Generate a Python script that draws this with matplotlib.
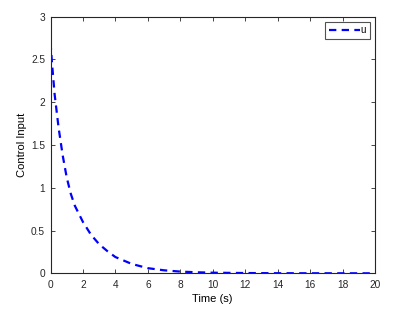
import matplotlib
matplotlib.use("Agg")
import matplotlib.pyplot as plt

time_s = [0, 0.1, 0.25, 0.5, 0.75, 1.0, 1.25, 1.5, 2.0, 2.5, 3.0, 3.5, 4.0, 5.0, 6.0,
          7.0, 8.0, 9.0, 10.0, 12.0, 14.0, 16.0, 18.0, 20.0]
control_u = [2.70, 2.44, 2.10, 1.70, 1.38, 1.12, 0.93, 0.79, 0.60, 0.45, 0.34, 0.26,
             0.19, 0.11, 0.06, 0.035, 0.02, 0.012, 0.007, 0.003, 0.001, 0.0005, 0.0002, 0.0]
series_label = "u"
x_ticks = [0, 2, 4, 6, 8, 10, 12, 14, 16, 18, 20]
y_ticks = [0, 0.5, 1, 1.5, 2, 2.5, 3]

plt.rcParams['font.family'] = ['Liberation Sans', 'DejaVu Sans']
fig = plt.figure(figsize=(4.16, 3.09), dpi=100)
ax = fig.add_axes([50.5/416, 1-273.3/309, 324.5/416, (273.3-16.7)/309])
ax.plot(time_s, control_u, color='#0000ff', linestyle=(0, (3.3, 2.4)), linewidth=1.6,
        label=series_label)
ax.set_xlim(0, 20)
ax.set_ylim(0, 3)
ax.set_xticks(x_ticks)
ax.set_yticks(y_ticks)
ax.set_yticklabels(['0', '0.5', '1', '1.5', '2', '2.5', '3'])
ax.tick_params(direction='in', length=3, width=0.6, labelsize=7.3, top=True, right=True,
               colors='#262626')
ax.tick_params(axis='x', pad=5)
ax.tick_params(axis='y', pad=4)
for s in ax.spines.values():
    s.set_linewidth(0.8)
    s.set_color('#262626')
ax.set_xlabel('Time (s)', fontsize=8, labelpad=3)
ax.set_ylabel('Control Input', fontsize=8, labelpad=3)
leg = ax.legend(loc='upper right', fontsize=7, frameon=True, fancybox=False,
                handlelength=3.2, handletextpad=0.1, borderpad=0.35,
                borderaxespad=0.55)
leg.get_frame().set_edgecolor('#262626')
leg.get_frame().set_linewidth(0.8)
fig.savefig('out.png', dpi=100)
